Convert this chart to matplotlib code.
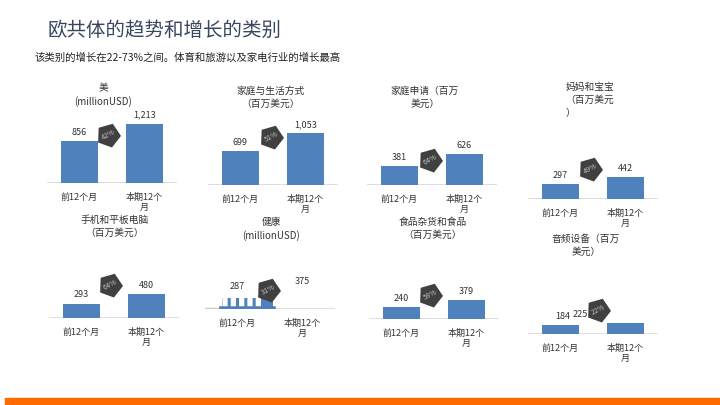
import matplotlib
matplotlib.use("Agg")
import matplotlib.pyplot as plt
from matplotlib.patches import Rectangle

plt.rcParams['font.family'] = ['Noto Sans CJK SC', 'DejaVu Sans']
plt.rcParams['hatch.linewidth'] = 2.2

# ---- data ----
titles = [
    "美\n(millionUSD)",
    "家庭与生活方式\n（百万美元）",
    "家庭申请（百万\n美元）",
    "妈妈和宝宝\n（百万美元\n）",
    "手机和平板电脑\n（百万美元）",
    "健康\n(millionUSD)",
    "食品杂货和食品\n（百万美元）",
    "音频设备（百万\n美元）",
]
prev_12m = [856, 699, 381, 297, 293, 287, 240, 184]
curr_12m = [1213, 1053, 626, 442, 480, 375, 379, 225]
growth = ["42%", "51%", "64%", "49%", "64%", "31%", "58%", "22%"]
period_labels = ["前12个月", "本期12个\n月"]

# ---- layout (pixels, origin top-left) ----
W, H = 720, 405
BAR_COLOR = '#4f81bd'
PX_PER_UNIT = 0.049
AX_W, AX_H = 130, 70
ax_left = [47, 208, 367, 528, 49, 205, 369, 528]
ax_base = [183, 185, 185, 199, 318, 309, 319, 334]
title_xy = [(103, 95), (271, 97), (425, 97), (590, 100),
            (115, 226), (271, 229), (433, 228), (586, 245)]
title_align = ['center', 'center', 'center', 'left',
               'center', 'center', 'center', 'center']
badge_dy = [48, 48, 25, 30, 33, 19, 24, 24]   # badge height above baseline
badge_dx = [-4, -2, -2, -3, -4, -2, -4, 5]

fig = plt.figure(figsize=(W / 100, H / 100), dpi=100)

# heading
fig.text(48 / W, 1 - 30 / H, "欧共体的趋势和增长的类别", fontsize=14,
         color='#3a4660', ha='left', va='center', fontweight='light')
fig.text(35 / W, 1 - 58 / H,
         "该类别的增长在22-73%之间。体育和旅游以及家电行业的增长最高",
         fontsize=7.5, color='#222222', ha='left', va='center')

for i in range(len(titles)):
    ax = fig.add_axes([ax_left[i] / W, 1 - ax_base[i] / H, AX_W / W, AX_H / H])
    ax.set_xlim(-0.5, 1.5)
    ax.set_ylim(0, AX_H / PX_PER_UNIT)
    for s in ax.spines.values():
        s.set_visible(False)
    ax.set_yticks([])
    ax.set_xticks([0, 1])
    ax.set_xticklabels(period_labels, fontsize=6.5, color='#333333',
                       linespacing=1.1)
    ax.tick_params(axis='x', length=0, pad=7)
    ax.axhline(0, color='#d9d9d9', lw=1.2, zorder=1)

    vals = [prev_12m[i], curr_12m[i]]
    if titles[i].startswith("健康"):
        # the slide renders this chart broken: a comb-like first bar only
        ax.bar([0.155], [vals[0] * 0.8], width=0.79, color='white',
               edgecolor=BAR_COLOR, hatch='||', lw=0, zorder=2)
        ax.bar([0.47], [vals[0] * 0.8], width=0.16, color=BAR_COLOR, zorder=2)
        ax.axhline(0, xmin=0.0, xmax=0.13, color='#c8c8c8', lw=2.5, zorder=1)
        ax.axhline(0, xmin=0.13, xmax=0.525, color=BAR_COLOR, lw=4, zorder=3)
    else:
        ax.bar([0, 1], vals, width=0.57, color=BAR_COLOR, zorder=2)

    label_dx = [0, 0]
    if titles[i].startswith("音频"):
        label_dx = [2, -45]
    for j, v in enumerate(vals):
        ax.annotate(f"{v:,}", (j, v), xytext=(label_dx[j] * 0.72, 3),
                    textcoords='offset points', ha='center', va='bottom',
                    fontsize=6.5, color='#333333', annotation_clip=False)

    # growth badge: dark pentagon with the growth rate
    bx = 0.5 + badge_dx[i] / 65
    by = badge_dy[i] / PX_PER_UNIT
    ax.plot([bx], [by], marker=(5, 0, -20), markersize=18, color='#404040',
            mec='none', clip_on=False, zorder=5)
    ax.text(bx, by, growth[i], ha='center', va='center', fontsize=5.2,
            color='#c0c0c0', rotation=28, zorder=6, clip_on=False)

    tx, ty = title_xy[i]
    fig.text(tx / W, 1 - ty / H, titles[i], fontsize=7, color='#333333',
             ha='center', va='center', linespacing=1.35,
             multialignment=title_align[i])

# orange footer band
fig.patches.append(Rectangle((5 / W, 0), 1, 7 / H, transform=fig.transFigure,
                             color='#ff6a00', zorder=0))

fig.savefig("out.png", dpi=100)
